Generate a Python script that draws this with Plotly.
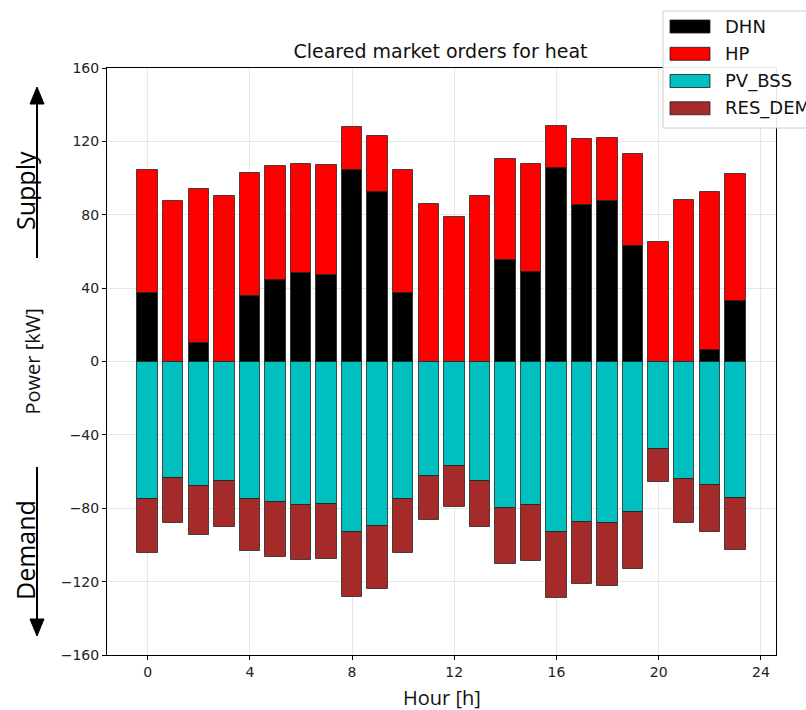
import plotly.graph_objects as go

# ---- data ----
hours = list(range(24))
DHN = [37.5, 0, 10.0, 0, 35.5, 44.4, 48.4, 46.9, 104.4, 92.2, 37.5, 0,
       0, 0, 55.1, 48.9, 105.5, 85.1, 87.6, 62.9, 0, 0, 6.2, 33.1]
HP = [66.7, 87.6, 84.0, 90.2, 67.2, 62.3, 59.4, 60.4, 23.2, 30.9, 66.7, 85.6,
      78.7, 90.2, 55.3, 58.9, 22.7, 36.2, 34.4, 50.0, 65.3, 88.2, 86.3, 69.1]
PV_BSS = [-74.9, -63.5, -67.8, -65.3, -74.9, -76.7, -78.0, -77.5, -92.7, -89.5, -74.9, -62.2,
          -57.1, -65.3, -80.0, -78.0, -92.7, -87.6, -88.2, -82.0, -47.5, -64.0, -67.3, -74.2]
RES_DEM = [-29.3, -24.3, -26.7, -24.9, -28.6, -30.0, -30.0, -30.0, -35.7, -34.5, -29.3, -24.2,
           -22.0, -24.9, -30.5, -30.5, -36.4, -33.7, -34.3, -31.1, -18.3, -24.2, -25.4, -28.7]
series_names = ["DHN", "HP", "PV_BSS", "RES_DEM"]
series_colors = ["#000000", "#ff0000", "#00bfbf", "#a52a2a"]
x_ticks = [0, 4, 8, 12, 16, 20, 24]
y_ticks = [-160, -120, -80, -40, 0, 40, 80, 120, 160]

# ---- layout geometry (pixels) ----
W, H = 806, 710
L, R, T, B = 107, 776, 68, 655


def px(x):
    return (x - L) / (R - L)


def py(y):
    return (B - y) / (B - T)


fig = go.Figure()
for name, vals, col in zip(series_names, [DHN, HP, PV_BSS, RES_DEM], series_colors):
    fig.add_trace(go.Bar(
        x=hours, y=vals, name=name, width=0.8,
        marker=dict(color=col, line=dict(color="rgba(30,30,30,0.75)", width=1)),
        showlegend=False,
    ))

axis_common = dict(
    showline=True, linecolor="black", linewidth=1, mirror=True,
    showgrid=True, gridcolor="#e6e6e6", gridwidth=1.2,
    ticks="outside", ticklen=4, tickcolor="black", tickwidth=1,
    tickfont=dict(family="DejaVu Sans", size=14, color="#222222"),
    zeroline=False,
)

fig.update_layout(
    width=W, height=H,
    margin=dict(l=L, r=W - R, t=T, b=H - B),
    barmode="relative", bargap=0,
    plot_bgcolor="white", paper_bgcolor="white",
    xaxis=dict(range=[-1.59, 24.59], tickvals=x_ticks, **axis_common),
    yaxis=dict(range=[-160, 160], tickvals=y_ticks, **axis_common),
    title=dict(text="Cleared market orders for heat", x=px(440.5), xref="paper",
               y=1 - 51 / H, yanchor="middle", xanchor="center",
               font=dict(family="DejaVu Sans", size=19, color="#111111")),
)

annotations = [
    dict(text="Hour [h]", x=px(441.5), y=py(697), xref="paper", yref="paper",
         showarrow=False, xanchor="center", yanchor="middle",
         font=dict(family="Open Sans", size=20, color="#111111")),
    dict(text="Power [kW]", x=px(32), y=py(361.5), xref="paper", yref="paper",
         showarrow=False, xanchor="center", yanchor="middle", textangle=-90,
         font=dict(family="Open Sans", size=20, color="#111111")),
    dict(text="Supply", x=px(25), y=py(191), xref="paper", yref="paper",
         showarrow=False, xanchor="center", yanchor="middle", textangle=-90,
         font=dict(family="Open Sans", size=25, color="#000000")),
    dict(text="Demand", x=px(25), y=py(550), xref="paper", yref="paper",
         showarrow=False, xanchor="center", yanchor="middle", textangle=-90,
         font=dict(family="Open Sans", size=25, color="#000000")),
]

shapes = []
# supply / demand arrows
ax_x = 37
shapes.append(dict(type="line", xref="paper", yref="paper", x0=px(ax_x), x1=px(ax_x),
                   y0=py(258), y1=py(100), line=dict(color="black", width=2)))
shapes.append(dict(type="path", xref="paper", yref="paper",
                   path=f"M {px(ax_x)} {py(87)} L {px(ax_x - 7)} {py(104)} L {px(ax_x + 7)} {py(104)} Z",
                   fillcolor="black", line=dict(color="black", width=1)))
shapes.append(dict(type="line", xref="paper", yref="paper", x0=px(ax_x), x1=px(ax_x),
                   y0=py(467), y1=py(622), line=dict(color="black", width=2)))
shapes.append(dict(type="path", xref="paper", yref="paper",
                   path=f"M {px(ax_x)} {py(636)} L {px(ax_x - 7)} {py(619)} L {px(ax_x + 7)} {py(619)} Z",
                   fillcolor="black", line=dict(color="black", width=1)))

# legend box
shapes.append(dict(type="rect", xref="paper", yref="paper", layer="above",
                   x0=px(663), x1=px(830), y0=py(128), y1=py(11),
                   fillcolor="rgba(255,255,255,0.9)", line=dict(color="#cccccc", width=1)))
centers = [26.5, 53.8, 81.0, 108.3]
for name, col, cy in zip(series_names, series_colors, centers):
    shapes.append(dict(type="rect", xref="paper", yref="paper", layer="above",
                       x0=px(670), x1=px(710), y0=py(cy + 6.5), y1=py(cy - 6.5),
                       fillcolor=col, line=dict(color="rgba(30,30,30,0.8)", width=1)))
    annotations.append(dict(text=name, x=px(723), y=py(cy), xref="paper", yref="paper",
                            showarrow=False, xanchor="left", yanchor="middle",
                            font=dict(family="DejaVu Sans", size=18, color="#111111")))

fig.update_layout(shapes=shapes, annotations=annotations)
fig.write_html("out.html", config={"displayModeBar": False},
               post_script="document.body.style.margin='0';document.body.style.overflow='hidden';")
